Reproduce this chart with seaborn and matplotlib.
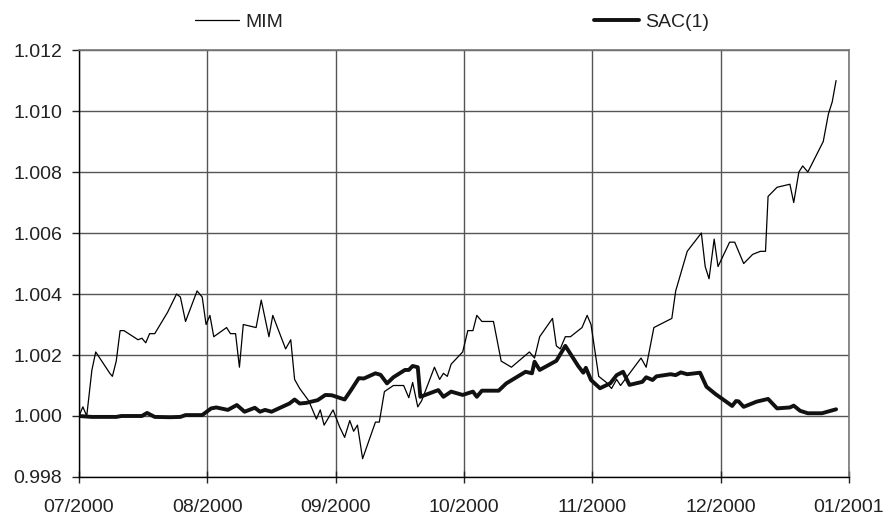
import pandas as pd
import numpy as np
import matplotlib

matplotlib.use("Agg")
import matplotlib.pyplot as plt
import seaborn as sns
from matplotlib.lines import Line2D

# x = months elapsed since 07/2000
mim_t = [0.00, 0.03, 0.06, 0.10, 0.13, 0.24, 0.26, 0.29, 0.32, 0.35, 0.46, 0.49, 0.52, 0.55, 0.59,
         0.69, 0.76, 0.79, 0.83, 0.92, 0.96, 0.99, 1.02, 1.05, 1.15, 1.18, 1.22, 1.25, 1.28, 1.38,
         1.42, 1.48, 1.51, 1.61, 1.65, 1.68, 1.72, 1.79, 1.85, 1.88, 1.91, 1.98, 2.03, 2.07, 2.11,
         2.14, 2.17, 2.21, 2.31, 2.34, 2.38, 2.45, 2.53, 2.57, 2.60, 2.64, 2.67, 2.77, 2.81, 2.84,
         2.87, 2.90, 2.99, 3.03, 3.07, 3.10, 3.14, 3.23, 3.29, 3.33, 3.37, 3.51, 3.55, 3.59, 3.69,
         3.72, 3.75, 3.79, 3.83, 3.92, 3.96, 3.99, 4.05, 4.11, 4.15, 4.19, 4.22, 4.38, 4.42, 4.48,
         4.62, 4.65, 4.74, 4.85, 4.88, 4.91, 4.95, 4.98, 5.07, 5.11, 5.18, 5.25, 5.31, 5.35, 5.37,
         5.44, 5.54, 5.57, 5.61, 5.64, 5.68, 5.80, 5.84, 5.87, 5.90]
mim_v = [1.0000, 1.0003, 1.0000, 1.0015, 1.0021, 1.0014, 1.0013, 1.0018, 1.0028, 1.0028, 1.0025,
         1.00255, 1.0024, 1.0027, 1.0027, 1.0034, 1.0040, 1.0039, 1.0031, 1.0041, 1.0039, 1.0030,
         1.0033, 1.0026, 1.0029, 1.0027, 1.0027, 1.0016, 1.0030, 1.0029, 1.0038, 1.0026, 1.0033,
         1.0022, 1.0025, 1.0012, 1.0009, 1.0005, 0.9999, 1.0002, 0.9997, 1.0002, 0.99965, 0.9993,
         0.99985, 0.9995, 0.9997, 0.9986, 0.9998, 0.9998, 1.0008, 1.0010, 1.0010, 1.0006, 1.0011,
         1.0003, 1.0005, 1.0016, 1.0012, 1.0014, 1.0013, 1.0017, 1.0021, 1.0028, 1.0028, 1.0033,
         1.0031, 1.0031, 1.0018, 1.0017, 1.0016, 1.0021, 1.0019, 1.0026, 1.0032, 1.0023, 1.0022,
         1.0026, 1.0026, 1.0029, 1.0033, 1.0030, 1.0013, 1.0011, 1.0009, 1.0012, 1.0010, 1.0019,
         1.0016, 1.0029, 1.0032, 1.0041, 1.0054, 1.0060, 1.0049, 1.0045, 1.0058, 1.0049, 1.0057,
         1.0057, 1.0050, 1.0053, 1.0054, 1.0054, 1.0072, 1.0075, 1.0076, 1.0070, 1.0080, 1.0082,
         1.0080, 1.0090, 1.0099, 1.0103, 1.0110]

sac_t = [0.00, 0.10, 0.29, 0.33, 0.49, 0.53, 0.59, 0.71, 0.79, 0.83, 0.96, 1.03, 1.07, 1.16, 1.23,
         1.29, 1.37, 1.41, 1.45, 1.50, 1.64, 1.68, 1.72, 1.77, 1.86, 1.92, 1.97, 2.07, 2.12, 2.18,
         2.22, 2.31, 2.35, 2.40, 2.45, 2.54, 2.57, 2.60, 2.64, 2.66, 2.80, 2.84, 2.90, 2.99, 3.07,
         3.10, 3.14, 3.27, 3.33, 3.48, 3.53, 3.55, 3.59, 3.72, 3.79, 3.89, 3.93, 3.95, 3.99, 4.06,
         4.14, 4.19, 4.24, 4.29, 4.39, 4.42, 4.47, 4.50, 4.61, 4.65, 4.69, 4.74, 4.84, 4.89, 4.96,
         5.02, 5.09, 5.12, 5.14, 5.18, 5.28, 5.37, 5.44, 5.54, 5.57, 5.62, 5.68, 5.79, 5.90]
sac_v = [1.00000, 0.99997, 0.99997, 1.00000, 1.00000, 1.00010, 0.99997, 0.99996, 0.99997, 1.00003,
         1.00003, 1.00025, 1.00028, 1.00020, 1.00036, 1.00014, 1.00027, 1.00014, 1.00020, 1.00014,
         1.00041, 1.00054, 1.00041, 1.00043, 1.00052, 1.00069, 1.00068, 1.00054, 1.00085, 1.00124,
         1.00123, 1.00140, 1.00135, 1.00107, 1.00127, 1.00151, 1.00151, 1.00164, 1.00160, 1.00063,
         1.00085, 1.00063, 1.00080, 1.00069, 1.00080, 1.00063, 1.00083, 1.00083, 1.00107, 1.00145,
         1.00140, 1.00178, 1.00151, 1.00181, 1.00230, 1.00164, 1.00142, 1.00158, 1.00118, 1.00091,
         1.00107, 1.00134, 1.00145, 1.00102, 1.00112, 1.00127, 1.00118, 1.00130, 1.00137, 1.00134,
         1.00143, 1.00137, 1.00142, 1.00096, 1.00072, 1.00054, 1.00033, 1.00049, 1.00048, 1.00030,
         1.00047, 1.00056, 1.00025, 1.00028, 1.00034, 1.00017, 1.00009, 1.00009, 1.00022]

month_labels = ["07/2000", "08/2000", "09/2000", "10/2000", "11/2000", "12/2000", "01/2001"]
y_ticks = [0.998, 1.000, 1.002, 1.004, 1.006, 1.008, 1.010, 1.012]

df = pd.concat([
    pd.DataFrame({"t": mim_t, "value": mim_v, "series": "MIM"}),
    pd.DataFrame({"t": sac_t, "value": sac_v, "series": "SAC(1)"}),
])

sns.set_style("white")
plt.rcParams["font.family"] = ["Liberation Sans", "DejaVu Sans"]

fig = plt.figure(figsize=(8.89, 5.16), dpi=100)
ax = fig.add_axes([0.0889, 0.0756, 0.866, 0.8274])

sns.lineplot(data=df, x="t", y="value", hue="series", size="series",
             palette={"MIM": "black", "SAC(1)": "#111111"},
             sizes={"MIM": 0.9, "SAC(1)": 2.8}, ax=ax, legend=False)

ax.set_xlim(0, 6)
ax.set_ylim(0.998, 1.012)
ax.set_xticks(range(len(month_labels)))
ax.set_xticklabels(month_labels)
ax.set_yticks(y_ticks)
ax.set_yticklabels([f"{v:.3f}" for v in y_ticks])
ax.set_xlabel("")
ax.set_ylabel("")
ax.grid(True, color="#555555", linewidth=1.0)
ax.set_axisbelow(True)
for side in ["top", "right"]:
    ax.spines[side].set_color("#777777")
    ax.spines[side].set_linewidth(1.2)
for side in ["left", "bottom"]:
    ax.spines[side].set_color("black")
    ax.spines[side].set_linewidth(1.0)
ax.tick_params(axis="y", direction="out", length=5, width=1, colors="#222222",
               labelsize=14, pad=7, left=True)
ax.tick_params(axis="x", direction="inout", length=9, width=1, colors="#222222",
               labelsize=14, pad=11, bottom=True)

# legend across the top, outside the plot
handles = [Line2D([], [], color="black", lw=0.9), Line2D([], [], color="#111111", lw=2.8)]
fig.legend(handles, ["MIM", "SAC(1)"], loc="center", bbox_to_anchor=(0.508, 0.957),
           ncol=2, frameon=False, fontsize=14, handlelength=2.3, handletextpad=0.3,
           columnspacing=16.0, labelcolor="#222222")

fig.savefig("out.png", dpi=100)
plt.close(fig)
